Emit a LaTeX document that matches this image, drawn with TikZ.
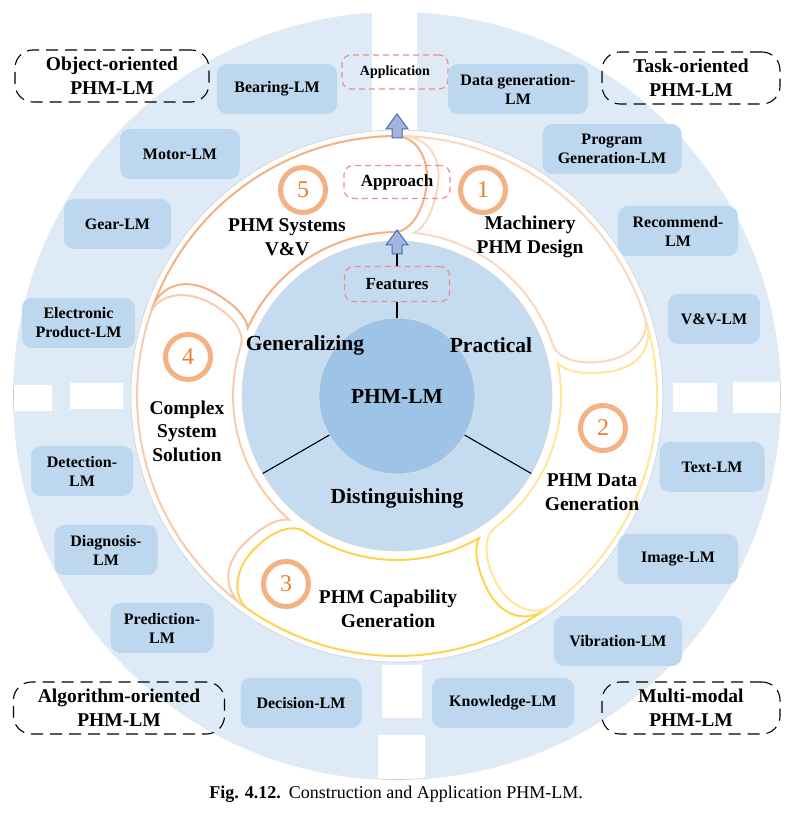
\documentclass[tikz,border=0pt]{standalone}
\usepackage{fontspec}
\setmainfont{Liberation Serif}
\usetikzlibrary{calc}
\definecolor{ringblue}{HTML}{DEEBF7}
\definecolor{boxblue}{HTML}{BDD7EE}
\definecolor{discblue}{HTML}{C5DCF0}
\definecolor{coreblue}{HTML}{9DC3E6}
\definecolor{arOne}{HTML}{F9D8C2}
\definecolor{arTwo}{HTML}{FFE699}
\definecolor{arThree}{HTML}{FFD350}
\definecolor{arFour}{HTML}{F8CBAD}
\definecolor{arFive}{HTML}{F4B183}
\definecolor{numorange}{HTML}{ED7D31}
\definecolor{reddash}{HTML}{F08C8C}
\definecolor{arrfill}{HTML}{A3B5DD}
\definecolor{arrline}{HTML}{4A6BB5}
\def\bRo{260}
\def\bRi{164}
\def\bRm{211}
\newcommand\bandarrow[3]{%
 \draw[#3, line width=2pt, fill=white]
 ({#1+5.5}:\bRo) arc[start angle={#1+5.5}, end angle={#2+8}, radius=\bRo]
 .. controls ({#2+4}:\bRo) and (#2:{\bRm+30}) .. (#2:\bRm)
 .. controls (#2:{\bRm-28}) and ({#2+4}:\bRi) .. ({#2+9}:\bRi)
 arc[start angle={#2+9}, end angle={#1+2}, radius=\bRi]
 .. controls ({#1-1}:{\bRi+6}) and ({#1-3}:{\bRm-26}) .. ({#1-3}:\bRm)
 .. controls ({#1-3}:{\bRm+26}) and (#1:{\bRo-3}) .. ({#1+5.5}:\bRo) -- cycle;}
\newcommand\upblock[2]{%
 \filldraw[fill=arrfill, draw=arrline, line width=1pt, line join=miter]
 (#1,#2) -- ++(-11,-15) -- ++(6,0) -- ++(0,-9) -- ++(10,0) -- ++(0,9) -- ++(6,0) -- cycle;}
\begin{document}
\begin{tikzpicture}[x=1pt,y=1pt,
 lmbox/.style={fill=boxblue, rounded corners=10pt, minimum height=50pt, inner sep=0pt,
   font=\fontsize{16}{19}\selectfont\bfseries, align=center},
 cornerbox/.style={draw=black, dash pattern=on 12pt off 7pt, line width=1.1pt, rounded corners=18pt,
   minimum height=52pt, inner sep=0pt, font=\fontsize{19.5}{24}\selectfont\bfseries, align=center},
 redbox/.style={draw=reddash, dash pattern=on 6pt off 4pt, line width=1.2pt, rounded corners=9pt,
   inner sep=0pt, align=center},
 numc/.style={circle, draw=arFive, line width=5pt, minimum size=45pt, inner sep=0pt,
   font=\fontsize{24}{24}\selectfont, text=numorange},
 lbl/.style={font=\fontsize{19.5}{23.5}\selectfont\bfseries, align=center},
 ctr/.style={font=\fontsize{21.5}{24}\selectfont\bfseries}]
\useasboundingbox (0,0) rectangle (795,822);
\coordinate (C) at (397,426);
% outer ring
\fill[ringblue, even odd rule] (C) circle[radius=384] (C) circle[radius=266];
\fill[white] (4,411) rectangle (52,437) (70,413) rectangle (123,439)
  (673,410) rectangle (717,439) (733,409) rectangle (792,440)
  (382,104) rectangle (422,157) (378,38) rectangle (425,87)
  (372,690) rectangle (417,816);
\draw[gray!35, line width=0.6pt] (C) circle[radius=266];
\begin{scope}
 \clip (4,411) rectangle (52,437) (733,409) rectangle (792,440) (378,38) rectangle (425,87);
 \draw[gray!40, line width=0.6pt] (C) circle[radius=383.5];
\end{scope}
% inner disc
\node[circle, fill=discblue, draw=gray!30, line width=0.6pt, minimum size=310pt, inner sep=0pt, outer sep=0pt] (disc) at (C) {};
\node[circle, fill=coreblue, draw=gray!25, line width=0.6pt, minimum size=156pt, inner sep=0pt, outer sep=0pt, ctr] (core) at (C) {PHM-LM};
\draw[line width=1.1pt] (core.210) -- (disc.210);
\draw[line width=1.1pt] (core.330) -- (disc.330);
% band arrows
\begin{scope}[shift={(397,426)}]
\bandarrow{82}{9.5}{arOne}
\bandarrow{9.5}{-62}{arTwo}
\bandarrow{-62}{-133}{arThree}
\bandarrow{-133}{-206.5}{arFour}
\bandarrow{-206.5}{-278}{arFive}
\end{scope}
% disc labels
\node[ctr] (gen) at (305,477) {Generalizing};
\node[ctr] (pra) at (491,477) {Practical};
\node[ctr] (dis) at (397,324) {Distinguishing};
% red boxes
\node[redbox, minimum width=106pt, minimum height=34pt, font=\fontsize{14}{16}\selectfont\bfseries] (app) at (395,750) {Application};
\node[redbox, minimum width=106pt, minimum height=33pt, font=\fontsize{17}{19}\selectfont\bfseries] (appr) at (397,640) {Approach};
\node[redbox, minimum width=105pt, minimum height=35pt, font=\fontsize{17}{19}\selectfont\bfseries] (feat) at (397,538) {Features};
% block arrows and connectors
\upblock{397}{592}
\upblock{397}{708}
\coordinate (arrB) at (397,568);
\draw[line width=1.1pt] (feat.north) -- (arrB);
\draw[line width=1.1pt] (feat.south) -- (core.north);
% number circles
\node[numc] (n1) at (483,632) {1};
\node[numc] (n2) at (603,394) {2};
\node[numc] (n3) at (286,238) {3};
\node[numc] (n4) at (188,465) {4};
\node[numc] (n5) at (303,632) {5};
% arrow labels
\node[lbl] (l1) at (530,585) {Machinery\\PHM Design};
\node[lbl] (l2) at (592,330) {PHM Data\\Generation};
\node[lbl] (l3) at (388,213) {PHM Capability\\Generation};
\node[lbl] (l4) at (187,391) {Complex\\System\\Solution};
\node[lbl] (l5) at (287,585) {PHM Systems\\V\&V};
% LM boxes
\node[lmbox, minimum width=120pt] (b1) at (277,733) {Bearing-LM};
\node[lmbox, minimum width=120pt] (b2) at (180,668) {Motor-LM};
\node[lmbox, minimum width=107pt] (b3) at (117.5,598) {Gear-LM};
\node[lmbox, minimum width=113pt] (b4) at (78.5,499) {Electronic\\Product-LM};
\node[lmbox, minimum width=102pt] (b5) at (82,351) {Detection-\\LM};
\node[lmbox, minimum width=103pt] (b6) at (106,272) {Diagnosis-\\LM};
\node[lmbox, minimum width=103pt] (b7) at (162,194) {Prediction-\\LM};
\node[lmbox, minimum width=121pt] (b8) at (301,119) {Decision-LM};
\node[lmbox, minimum width=140pt] (b9) at (518,733) {Data generation-\\LM};
\node[lmbox, minimum width=139pt] (b10) at (612,673) {Program\\Generation-LM};
\node[lmbox, minimum width=120pt] (b11) at (678,591) {Recommend-\\LM};
\node[lmbox, minimum width=92pt] (b12) at (714,503) {V\&V-LM};
\node[lmbox, minimum width=105pt] (b13) at (712,355) {Text-LM};
\node[lmbox, minimum width=120pt] (b14) at (678,263) {Image-LM};
\node[lmbox, minimum width=128pt] (b15) at (618,181) {Vibration-LM};
\node[lmbox, minimum width=142pt] (b16) at (503,119) {Knowledge-LM};
% corner boxes
\node[cornerbox, minimum width=194pt] (c1) at (112,746) {Object-oriented\\PHM-LM};
\node[cornerbox, minimum width=178pt] (c2) at (691,744) {Task-oriented\\PHM-LM};
\node[cornerbox, minimum width=211pt] (c3) at (119,114) {Algorithm-oriented\\PHM-LM};
\node[cornerbox, minimum width=178pt] (c4) at (691,114) {Multi-modal\\PHM-LM};
% caption
\node[font=\fontsize{18}{20}\selectfont] (cap) at (396,28) {\textbf{Fig. 4.12.}\hspace{8pt}Construction and Application PHM-LM.};
\end{tikzpicture}
\end{document}
